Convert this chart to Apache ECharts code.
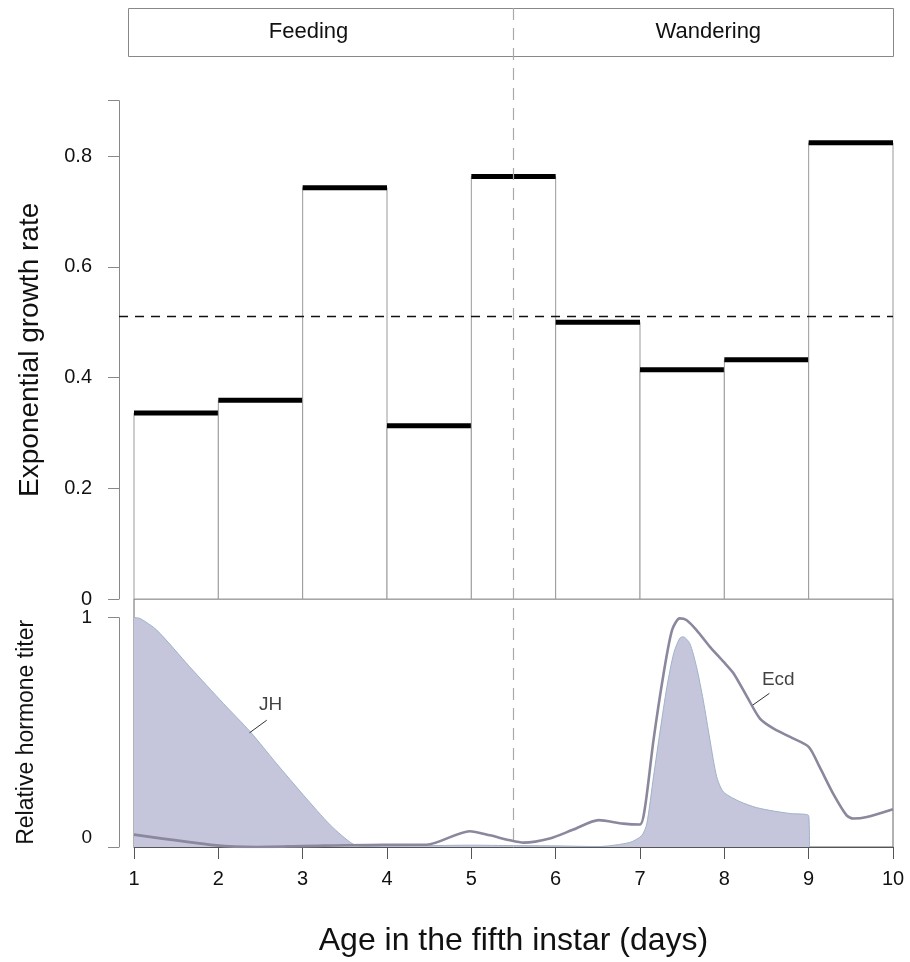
<!DOCTYPE html>
<html><head><meta charset="utf-8">
<script src="https://cdn.jsdelivr.net/npm/echarts@6/dist/echarts.min.js"></script>
<style>html,body{margin:0;padding:0;background:#fff}#c{width:910px;height:962px}</style>
</head><body><div id="c"></div>
<script>
// ---------- data ----------
const barStart = [1, 2, 3, 4, 5, 6, 7, 8, 9];
const barEnd = [2, 3, 4, 5, 6, 7, 8, 9, 10];
const growthRate = [0.336, 0.359, 0.743, 0.313, 0.763, 0.500, 0.414, 0.432, 0.824];
const meanRate = 0.511;
const topTickLabels = [0, 0.2, 0.4, 0.6, 0.8];
const topTickMarks = [0, 0.2, 0.4, 0.6, 0.8, 0.9];
const phaseNames = ['Feeding', 'Wandering'];
const phaseLabelDay = [3.07, 7.81];
const phaseBoundary = 5.5;
const jhTiter = [
  [1.0, 1.0], [1.07, 0.997], [1.27, 0.946], [1.66, 0.786], [2.06, 0.626], [2.38, 0.502],
  [2.69, 0.364], [3.01, 0.226], [3.33, 0.095], [3.6, 0.012], [3.76, 0.002], [4.0, 0.004],
  [4.5, 0.006], [5.0, 0.008], [5.5, 0.006], [6.0, 0.005], [6.5, 0.002], [6.88, 0.02],
  [7.02, 0.05], [7.08, 0.10], [7.16, 0.306], [7.24, 0.51], [7.32, 0.70], [7.40, 0.845],
  [7.47, 0.91], [7.51, 0.917], [7.59, 0.888], [7.67, 0.786], [7.75, 0.64], [7.83, 0.466],
  [7.91, 0.306], [7.99, 0.24], [8.19, 0.197], [8.38, 0.172], [8.58, 0.157], [8.78, 0.146],
  [9.0, 0.137], [9.01, 0]
];
const ecdTiter = [
  [1.0, 0.054], [1.98, 0.007], [2.45, 0.0], [3.01, 0.004], [3.96, 0.01], [4.47, 0.01],
  [4.98, 0.069], [5.22, 0.051], [5.46, 0.029], [5.62, 0.019], [5.93, 0.037], [6.21, 0.076],
  [6.51, 0.117], [6.80, 0.102], [7.0, 0.098], [7.06, 0.175], [7.16, 0.466], [7.28, 0.757],
  [7.38, 0.946], [7.47, 0.997], [7.55, 0.99], [7.67, 0.946], [7.83, 0.873], [7.99, 0.808],
  [8.11, 0.757], [8.27, 0.655], [8.42, 0.561], [8.58, 0.517], [8.78, 0.48], [9.0, 0.437],
  [9.13, 0.349], [9.29, 0.233], [9.45, 0.138], [9.53, 0.124], [9.69, 0.131], [10.0, 0.165]
];
const curveLabels = [
  { name: 'JH', at: [2.62, 0.619], leader: [[2.37, 0.498], [2.574, 0.553]] },
  { name: 'Ecd', at: [8.64, 0.728], leader: [[8.337, 0.619], [8.534, 0.670]] }
];

// ---------- layout ----------
const FONT = 'Liberation Sans, Arial, sans-serif';
const plotLeft = 134, plotRight = 893, axisX = 119;
const pxPerDay = (plotRight - plotLeft) / 9;
const topXMin = 1 - (plotLeft - axisX) / pxPerDay;
const TXT = '#111';

const chart = echarts.init(document.getElementById('c'), null, { renderer: 'canvas' });

const barData = barStart.map((s, i) => [s, barEnd[i], growthRate[i]]);

const option = {
  animation: false,
  backgroundColor: '#fff',
  textStyle: { fontFamily: FONT },
  grid: [
    { left: axisX, right: 910 - plotRight, top: 100.7, height: 498.3 },
    { left: plotLeft, right: 910 - plotRight, top: 599, height: 248, show: true,
      borderColor: '#666', borderWidth: 1, backgroundColor: 'transparent' },
    { left: plotLeft, right: 910 - plotRight, top: 617.7, height: 229.3 }
  ],
  xAxis: [
    { type: 'value', gridIndex: 0, min: topXMin, max: 10, show: false },
    { type: 'value', gridIndex: 1, min: 1, max: 10, interval: 1,
      axisLine: { show: true, lineStyle: { color: '#555', width: 1 } },
      axisTick: { show: true, length: 12, lineStyle: { color: '#555' } },
      axisLabel: { fontSize: 20, color: TXT, margin: 22, fontFamily: FONT },
      splitLine: { show: false },
      name: 'Age in the fifth instar (days)', nameLocation: 'middle', nameGap: 78,
      nameTextStyle: { fontSize: 32, color: TXT, fontFamily: FONT } },
    { type: 'value', gridIndex: 2, min: 1, max: 10, show: false }
  ],
  yAxis: [
    { type: 'value', gridIndex: 0, min: 0, max: 0.9,
      axisLine: { show: true, lineStyle: { color: '#888', width: 1 } },
      axisTick: { show: true, length: 11, customValues: topTickMarks, lineStyle: { color: '#888' } },
      axisLabel: { customValues: topTickLabels, fontSize: 20, color: TXT, margin: 27, fontFamily: FONT,
        formatter: v => String(v) },
      splitLine: { show: false },
      name: 'Exponential growth rate', nameLocation: 'middle', nameGap: 75, nameRotate: 90,
      nameTextStyle: { fontSize: 28, color: TXT, fontFamily: FONT } },
    { type: 'value', gridIndex: 1, min: 0, max: 248 / 229.3, show: false },
    { type: 'value', gridIndex: 2, min: 0, max: 1, interval: 1, offset: plotLeft - axisX,
      axisLine: { show: true, lineStyle: { color: '#888', width: 1 } },
      axisTick: { show: true, length: 11, lineStyle: { color: '#888' } },
      axisLabel: { fontSize: 19, color: TXT, margin: 27, fontFamily: FONT,
        formatter: v => v === 0 ? '{lo|0}' : '{n|' + v + '}',
        rich: { lo: { fontSize: 19, color: TXT, padding: [0, 0, 18, 0], fontFamily: FONT },
                n: { fontSize: 19, color: TXT, fontFamily: FONT } } },
      splitLine: { show: false },
      name: 'Relative hormone titer', nameLocation: 'middle', nameGap: 81, nameRotate: 90,
      nameTextStyle: { fontSize: 23, color: TXT, fontFamily: FONT } }
  ],
  series: [
    { type: 'custom', xAxisIndex: 0, yAxisIndex: 0, data: barData, z: 2,
      renderItem: function (params, api) {
        const x0 = api.value(0), x1 = api.value(1), v = api.value(2);
        const p0 = api.coord([x0, v]);
        const p1 = api.coord([x1, 0]);
        return { type: 'group', children: [
          { type: 'rect', shape: { x: p0[0], y: p0[1], width: p1[0] - p0[0], height: p1[1] - p0[1] },
            style: { fill: '#fff', stroke: '#9a9a9a', lineWidth: 1 } },
          { type: 'line', shape: { x1: p0[0], y1: p0[1], x2: p1[0], y2: p0[1] },
            style: { stroke: '#000', lineWidth: 5 } }
        ] };
      } },
    { type: 'line', xAxisIndex: 0, yAxisIndex: 0, data: [], z: 5,
      markLine: { silent: true, symbol: 'none', label: { show: false },
        lineStyle: { color: '#111', type: [9, 7], width: 1.4 },
        data: [{ yAxis: meanRate }] } },
    { type: 'line', name: 'JH', xAxisIndex: 1, yAxisIndex: 1, data: jhTiter, z: 3,
      smooth: 0.25, symbol: 'none',
      lineStyle: { color: '#9fb2c8', width: 1 },
      areaStyle: { color: '#c5c6dc', opacity: 1 } },
    { type: 'line', name: 'Ecd', xAxisIndex: 1, yAxisIndex: 1, data: ecdTiter, z: 4,
      smooth: 0.25, symbol: 'none',
      lineStyle: { color: '#8b879d', width: 2.6 } },
    ...curveLabels.map(c => ({ type: 'line', xAxisIndex: 1, yAxisIndex: 1, data: c.leader, z: 6,
      symbol: 'none', lineStyle: { color: '#333', width: 1 } })),
    { type: 'scatter', xAxisIndex: 1, yAxisIndex: 1, z: 7, symbolSize: 0,
      data: curveLabels.map(c => ({ name: c.name, value: c.at })),
      label: { show: true, position: 'inside', formatter: p => p.name,
        fontSize: 19, color: TXT, fontFamily: FONT } }
  ]
};
chart.setOption(option);

const bx = chart.convertToPixel({ xAxisIndex: 1 }, phaseBoundary);
const lx = phaseLabelDay.map(d => chart.convertToPixel({ xAxisIndex: 1 }, d));
const bandTop = 8, bandBottom = 56, bandLeft = 128;
chart.setOption({
  graphic: [
    { type: 'rect', shape: { x: bandLeft + 0.5, y: bandTop + 0.5, width: plotRight - bandLeft, height: bandBottom - bandTop },
      style: { fill: '#fff', stroke: '#888', lineWidth: 1 }, z: 10 },
    { type: 'line', shape: { x1: bx, y1: bandTop, x2: bx, y2: 847 },
      style: { stroke: '#aaa', lineWidth: 1.2, lineDash: [12, 8] }, z: 11 },
    ...phaseNames.map((n, i) => ({ type: 'text', x: lx[i], y: (bandTop + bandBottom) / 2, z: 12,
      style: { text: n, fontSize: 22, fill: TXT, fontFamily: FONT, align: 'center', verticalAlign: 'middle' } }))
  ]
});
</script></body></html>
